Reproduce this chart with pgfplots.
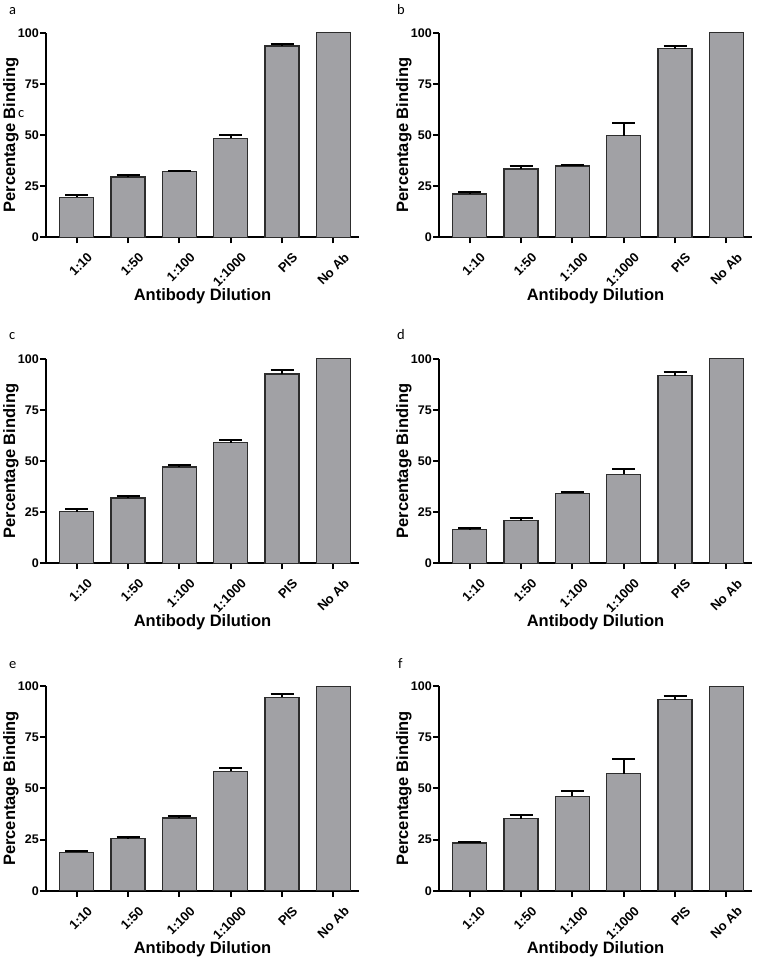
\documentclass[border=0pt]{standalone}
\usepackage{fontspec}
\setmainfont{Liberation Sans}
\newfontfamily\carlito{Carlito}
\usepackage{pgfplots}
\usepackage{pgfplotstable}
\pgfplotsset{compat=1.18}
\definecolor{barfill}{RGB}{161,161,165}
\definecolor{baredge}{RGB}{45,45,45}

\pgfplotstableread{
x y e
0 19.5 1.3
1 29.5 1.1
2 32.1 0.5
3 48.4 1.6
4 93.5 0.8
5 100 0
}\dataA
\pgfplotstableread{
x y e
0 21.2 1.1
1 33.4 1.6
2 34.9 0.4
3 49.7 6.2
4 92.3 1.3
5 100 0
}\dataB
\pgfplotstableread{
x y e
0 25.3 1.2
1 32.0 1.0
2 47.1 1.1
3 59.0 1.5
4 92.5 2.1
5 100 0
}\dataC
\pgfplotstableread{
x y e
0 16.5 0.8
1 20.9 1.3
2 34.3 0.7
3 43.5 2.4
4 91.7 1.9
5 100 0
}\dataD
\pgfplotstableread{
x y e
0 18.8 0.6
1 25.5 1.0
2 35.5 1.1
3 58.3 1.8
4 94.6 1.8
5 100 0
}\dataE
\pgfplotstableread{
x y e
0 23.4 0.6
1 35.3 1.5
2 46.2 2.7
3 57.2 7.3
4 93.5 1.9
5 100 0
}\dataF

\pgfplotsset{
  panel/.style={
    scale only axis, width=313pt, height=204.5pt,
    xmin=-0.6, xmax=5.5, ymin=0, ymax=100,
    axis x line=bottom, axis y line=left,
    axis line style={-, line width=2pt, black},
    xtick={0,1,2,3,4,5},
    xticklabels={1:10,1:50,1:100,1:1000,PIS,No Ab},
    ytick={0,25,50,75,100},
    tick align=outside, major tick length=6pt,
    tick style={line width=2pt, black},
    /pgf/number format/assume math mode=true,
    x tick label style={rotate=45, anchor=north east, inner sep=0pt, yshift=-13pt, xshift=1pt,
      font=\fontsize{13}{14}\selectfont\bfseries},
    y tick label style={inner sep=1pt, font=\fontsize{12.5}{14}\selectfont\bfseries},
    xlabel={Antibody Dilution}, ylabel={Percentage Binding},
    every axis x label/.style={at={(axis description cs:0.5,0)}, anchor=base,
      yshift=-63pt, inner sep=0pt, font=\fontsize{16.5}{18}\selectfont\bfseries},
    every axis y label/.style={at={(axis description cs:0,0.5)}, xshift=-43pt,
      rotate=90, anchor=north, inner sep=0pt,
      font=\fontsize{16.5}{18}\selectfont\bfseries},
  },
  barplot/.style={ybar, bar width=34pt, fill=barfill, draw=baredge, line width=1.3pt},
  errplot/.style={draw=none, forget plot,
    restrict x to domain=0:4,
    error bars/.cd, y dir=plus, y explicit,
    error bar style={draw=black, line width=2pt},
    error mark options={draw=black, rotate=90, mark size=11.5pt, line width=2pt}},
}

\newcommand{\panel}[3]{%
  \begin{axis}[panel, at={(#1,#2)}, anchor=south west]
    \addplot[barplot] table[x=x, y=y] {#3};
    \addplot[errplot] table[x=x, y=y, y error=e] {#3};
  \end{axis}}

\begin{document}
\begin{tikzpicture}[x=1pt, y=1pt]
  \useasboundingbox (0,0) rectangle (756,-962);
  \panel{46pt}{-237.3pt}{\dataA}
  \panel{439pt}{-237.3pt}{\dataB}
  \panel{46pt}{-563.3pt}{\dataC}
  \panel{439pt}{-563.3pt}{\dataD}
  \panel{46pt}{-890.7pt}{\dataE}
  \panel{439pt}{-890.7pt}{\dataF}
  \begin{scope}[every node/.style={inner sep=0pt, anchor=base west, font=\carlito\fontsize{14.5}{16}\selectfont}]
    \node at (9,-14) {a};
    \node at (397,-14) {b};
    \node at (9,-339) {c};
    \node at (397,-339) {d};
    \node at (9,-668) {e};
    \node at (398,-668) {f};
    \node at (18,-117) {c};
  \end{scope}
\end{tikzpicture}
\end{document}
